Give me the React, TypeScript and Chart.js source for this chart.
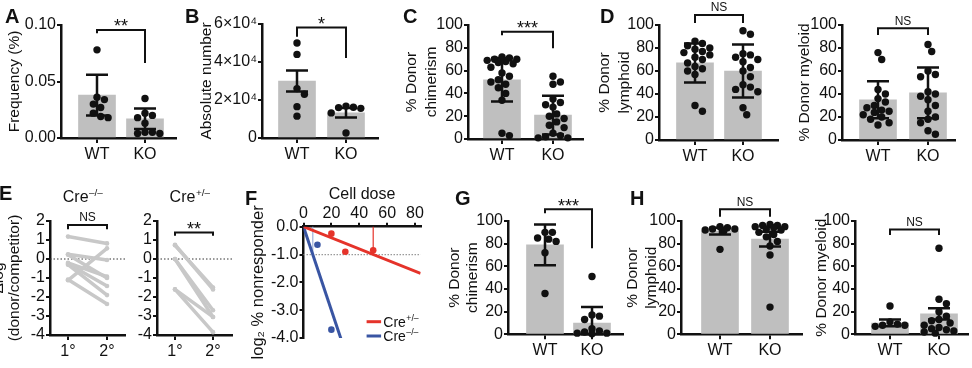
import React, { useEffect, useRef } from 'react';
import { Chart, registerables } from 'chart.js';

Chart.register(...registerables);

const FONT = '"Liberation Sans", Arial, Helvetica, sans-serif';
Chart.defaults.font.family = FONT;
Chart.defaults.color = '#111111';

const PAGE_W = 972;
const PAGE_H = 368;
// every canvas starts this far left of the page so an axis title can sit on the edge
const SHIFT = 40;
const X_AXIS_H = 30;

const INK = '#111111';
const BAR_GREY = '#bfbfbf';
const PAIR_GREY = '#c8c8c8';
const RED = '#e5332a';
const BLUE = '#3955a3';
const BLUE_LIGHT = '#9fb0da';
const TICK_FONT = { size: 16 };
const TITLE_SIZE = 15.5;
const DOT_R = 3.7;

// ---------------- values ----------------
const groups = ['WT', 'KO'];
const rounds = ['1°', '2°'];

// A: frequency (%)
const freqWT = [0.078, 0.036, 0.034, 0.03, 0.027, 0.022, 0.019, 0.018];
const freqKO = [0.035, 0.022, 0.02, 0.018, 0.013, 0.005, 0.004, 0.004, 0.005];
const freqMean = [0.038, 0.017];
const freqErr = [0.018, 0.009];
const freqTicks = [0, 0.05, 0.1];
const freqTickLabels = ['0.00', '0.05', '0.10'];

// B: absolute number
const absWT = [50000, 44000, 26000, 23000, 16500, 11500];
const absKO = [16800, 16200, 16000, 15600, 13200, 2600];
const absMean = [30000, 13300];
const absErr = [5500, 2500];
const absTicks = [0, 20000, 40000, 60000];
const absTickLabels = ['0', '2×10⁴', '4×10⁴', '6×10⁴'];

// shared percent axis
const pctTicks = [0, 20, 40, 60, 80, 100];
const pctTickLabels = ['0', '20', '40', '60', '80', '100'];

// C: donor chimerism
const chimWT = [72, 71, 70, 70, 69, 68, 67, 66, 63, 58, 55, 52, 50, 48, 45, 40, 34, 5, 3];
const chimKO = [55, 50, 48, 35, 32, 30, 28, 22, 20, 18, 15, 12, 10, 5, 3, 2, 1, 1];
const chimMean = [52, 21];
const chimErr = [19, 17];

// D: donor lymphoid / myeloid
const lymWT = [86, 84, 82, 80, 79, 77, 76, 74, 72, 70, 67, 64, 62, 60, 57, 30, 25];
const lymKO = [95, 92, 75, 74, 72, 70, 68, 63, 60, 55, 48, 46, 44, 42, 28, 22];
const lymMean = [67, 60];
const lymErr = [17, 23];
const myeWT = [76, 70, 44, 40, 36, 33, 30, 28, 26, 25, 24, 22, 20, 18, 15, 13];
const myeKO = [83, 77, 60, 57, 55, 42, 40, 38, 35, 30, 25, 20, 18, 15, 8, 5];
const myeMean = [35, 41];
const myeErr = [16, 22];

// E: paired Δlog(donor/competitor), primary vs secondary
const creNegFirst = [1.18, 0.25, -1.12, -0.2, -0.25, -0.3, -1.08, 0.22];
const creNegSecond = [0.82, -0.05, 0.56, -0.93, -1.42, -1.9, -2.37, -1.0];
const crePosFirst = [0.75, 0.72, 0.0, 0.0, -1.6, -1.6];
const crePosSecond = [-1.6, -1.5, -2.7, -3.05, -3.05, -3.85];
const logTicks = [-4, -3, -2, -1, 0, 1, 2];
const logTickLabels = ['-4', '-3', '-2', '-1', '0', '1', '2'];

// F: limiting dilution
const doseRedX = [20, 30, 50];
const doseRedY = [-0.25, -0.9, -0.85];
const doseBlueX = [10, 20];
const doseBlueY = [-0.65, -3.7];
const redSlope = -0.02;
const blueSlope = -0.15;
const doseTicks = [0, 20, 40, 60, 80];
const doseTickLabels = ['0', '20', '40', '60', '80'];
const nonrespTicks = [-4, -3, -2, -1, 0];
const nonrespTickLabels = ['-4.0', '-3.0', '-2.0', '-1.0', '0.0'];
const legendSups = ['+/–', '–/–'];

// G: secondary donor chimerism
const chim2WT = [90, 90, 85, 84, 82, 72, 36];
const chim2KO = [51, 17, 16, 13, 5, 3, 2, 1, 1, 0.5];
const chim2Mean = [79, 10];
const chim2Err = [18, 14];

// H: secondary lymphoid / myeloid
const lym2WT = [95, 94, 93, 93, 92, 91, 75];
const lym2KO = [97, 96, 96, 95, 95, 94, 93, 92, 90, 88, 86, 82, 78, 70, 24];
const lym2Mean = [91, 84];
const lym2Err = [3, 6.5];
const mye2WT = [25, 11, 9, 8, 8, 7];
const mye2KO = [76, 31, 27, 20, 16, 13, 12, 10, 8, 6, 5, 4, 3, 2, 1];
const mye2Mean = [10, 18];
const mye2Err = [3, 5];

// ---------------- layout ----------------
type Frame = { titleLeft: number; axisX: number; right: number; top: number; bottom: number; c1: number; c2: number };
type Sig = { label: string; top: number; legs: [number, number] };

const FRAMES: Record<string, Frame> = {
  A: { titleLeft: 5.7, axisX: 61, right: 176, top: 25, bottom: 138, c1: 97, c2: 145 },
  B: { titleLeft: 197.7, axisX: 262, right: 378, top: 24, bottom: 138, c1: 297, c2: 346 },
  C: { titleLeft: 402, axisX: 468, right: 583, top: 25, bottom: 139, c1: 502, c2: 553 },
  DL: { titleLeft: 595, axisX: 659, right: 778, top: 25, bottom: 140, c1: 695, c2: 743 },
  DM: { titleLeft: 795.7, axisX: 842, right: 955, top: 25, bottom: 140, c1: 878, c2: 928 },
  E1: { titleLeft: -9, axisX: 50, right: 125, top: 221, bottom: 335, c1: 68, c2: 107 },
  E2: { titleLeft: 130, axisX: 157, right: 232, top: 221, bottom: 335, c1: 175, c2: 213 },
  G: { titleLeft: 446, axisX: 508, right: 623, top: 221, bottom: 334.3, c1: 545, c2: 592 },
  HL: { titleLeft: 623.5, axisX: 681, right: 802, top: 221, bottom: 334.3, c1: 720, c2: 770 },
  HM: { titleLeft: 812.7, axisX: 855, right: 968, top: 221, bottom: 334.3, c1: 890, c2: 939 },
};
const FRAME_F = { titleLeft: 248, axisX: 303.5, top: 226.7, bottom: 338, doseMax: 84, topAxisH: 41.3 };

const LETTERS = [
  { t: 'A', x: 5, y: 5.5 },
  { t: 'B', x: 185, y: 5.5 },
  { t: 'C', x: 403, y: 5.5 },
  { t: 'D', x: 600, y: 5.5 },
  { t: 'E', x: -1, y: 182.5 },
  { t: 'F', x: 245, y: 188 },
  { t: 'G', x: 455, y: 187.5 },
  { t: 'H', x: 630, y: 188 },
];

// ---------------- helpers ----------------
function xRange(f: Frame) {
  const s = f.c2 - f.c1;
  return { min: 1 - (f.c1 - f.axisX) / s, max: 2 + (f.right - f.c2) / s };
}

// Prism-style scatter: points at similar heights are pushed sideways
function swarm(values: number[], group: number, f: Frame, yMin: number, yMax: number) {
  const ppy = (f.bottom - f.top) / (yMax - yMin);
  const ppx = f.c2 - f.c1;
  const order = values.map((_, i) => i).sort((a, b) => values[b] - values[a]);
  const placed: { dx: number; py: number }[] = [];
  const cands = [0, 1, -1, 2, -2, 3, -3, 4, -4].map((k) => k * DOT_R);
  const pts: { x: number; y: number }[] = [];
  for (const i of order) {
    const py = (values[i] - yMin) * ppy;
    let pick = 0;
    let best = -Infinity;
    for (const dx of cands) {
      let gap = Infinity;
      for (const p of placed) gap = Math.min(gap, Math.hypot(dx - p.dx, py - p.py));
      if (gap >= 2 * DOT_R * 0.95) {
        pick = dx;
        break;
      }
      if (gap > best) {
        best = gap;
        pick = dx;
      }
    }
    placed.push({ dx: pick, py });
    pts.push({ x: group + pick / ppx, y: values[i] });
  }
  return pts;
}

function drawSup(ctx: CanvasRenderingContext2D, base: string, sup: string, x: number, y: number, size: number, align: 'center' | 'left') {
  ctx.save();
  ctx.fillStyle = INK;
  ctx.textAlign = 'left';
  ctx.textBaseline = 'alphabetic';
  const bf = `${size}px ${FONT}`;
  const sf = `${(size * 0.62).toFixed(1)}px ${FONT}`;
  ctx.font = bf;
  const bw = ctx.measureText(base).width;
  ctx.font = sf;
  const sw = ctx.measureText(sup).width;
  const x0 = align === 'center' ? x - (bw + sw) / 2 : x;
  ctx.font = bf;
  ctx.fillText(base, x0, y);
  ctx.font = sf;
  ctx.fillText(sup, x0 + bw + 0.5, y - size * 0.4);
  ctx.restore();
}

function errorBars(mean: number[], err: number[]) {
  return {
    id: 'errorBars',
    afterDatasetsDraw(chart: any) {
      const { ctx, scales } = chart;
      const { x, y } = scales;
      ctx.save();
      ctx.strokeStyle = INK;
      ctx.lineWidth = 2.5;
      mean.forEach((m: number, i: number) => {
        const px = x.getPixelForValue(i + 1);
        const top = y.getPixelForValue(m + err[i]);
        const bot = y.getPixelForValue(Math.max(m - err[i], y.min));
        ctx.beginPath();
        ctx.moveTo(px, top);
        ctx.lineTo(px, bot);
        ctx.moveTo(px - 11, top);
        ctx.lineTo(px + 11, top);
        ctx.moveTo(px - 11, bot);
        ctx.lineTo(px + 11, bot);
        ctx.stroke();
      });
      ctx.restore();
    },
  };
}

function bracket(sig: Sig) {
  return {
    id: 'sigBracket',
    afterDraw(chart: any) {
      const { ctx, scales } = chart;
      const { x, y } = scales;
      const x1 = x.getPixelForValue(1);
      const x2 = x.getPixelForValue(2);
      const top = y.getPixelForValue(sig.top);
      ctx.save();
      ctx.strokeStyle = INK;
      ctx.lineWidth = 2;
      ctx.lineJoin = 'miter';
      ctx.beginPath();
      ctx.moveTo(x1, y.getPixelForValue(sig.legs[0]));
      ctx.lineTo(x1, top);
      ctx.lineTo(x2, top);
      ctx.lineTo(x2, y.getPixelForValue(sig.legs[1]));
      ctx.stroke();
      const stars = sig.label.includes('*');
      const size = stars ? 18 : 12;
      const mid = top - 8;
      ctx.fillStyle = INK;
      ctx.font = `${size}px ${FONT}`;
      ctx.textAlign = 'center';
      ctx.textBaseline = 'alphabetic';
      ctx.fillText(sig.label, (x1 + x2) / 2, mid + size * (stars ? 0.58 : 0.36));
      ctx.restore();
    },
  };
}

function refLine(value: number, color: string, dash: number[], width: number) {
  return {
    id: 'refLine',
    beforeDatasetsDraw(chart: any) {
      const { ctx, chartArea: a, scales } = chart;
      const py = scales.y.getPixelForValue(value);
      ctx.save();
      ctx.strokeStyle = color;
      ctx.lineWidth = width;
      ctx.setLineDash(dash);
      ctx.beginPath();
      ctx.moveTo(a.left, py);
      ctx.lineTo(a.right, py);
      ctx.stroke();
      ctx.restore();
    },
  };
}

function yScale(
  f: { axisX: number; titleLeft: number },
  ticks: number[],
  labels: string[],
  title?: { text: string | string[]; lh: number; size?: number },
) {
  return {
    type: 'linear',
    min: ticks[0],
    max: ticks[ticks.length - 1],
    afterBuildTicks: (s: any) => {
      s.ticks = ticks.map((v) => ({ value: v }));
    },
    afterFit: (s: any) => {
      s.width = f.axisX - f.titleLeft;
    },
    ticks: { callback: (_v: any, i: number) => labels[i], font: TICK_FONT, color: INK, padding: 1, autoSkip: false },
    grid: { drawOnChartArea: false, tickLength: 4, color: INK, lineWidth: 2 },
    border: { display: true, color: INK, width: 2.5 },
    title: title
      ? {
          display: true,
          text: title.text,
          color: INK,
          padding: 0,
          font: { size: title.size ?? TITLE_SIZE, lineHeight: `${title.lh}px` },
        }
      : { display: false },
  };
}

function xScale(min: number, max: number, ticks: number[], labels: string[]) {
  return {
    type: 'linear',
    min,
    max,
    offset: false,
    afterBuildTicks: (s: any) => {
      s.ticks = ticks.map((v) => ({ value: v }));
    },
    afterFit: (s: any) => {
      s.height = X_AXIS_H;
    },
    ticks: { callback: (_v: any, i: number) => labels[i], font: TICK_FONT, color: INK, padding: 2, autoSkip: false, maxRotation: 0 },
    grid: { drawOnChartArea: false, tickLength: 5, color: INK, lineWidth: 2, offset: false },
    border: { display: true, color: INK, width: 2.5 },
  };
}

function basePadding(f: Frame) {
  return {
    left: f.titleLeft + SHIFT,
    right: PAGE_W - f.right,
    top: f.top,
    bottom: PAGE_H - f.bottom - X_AXIS_H,
  };
}

const COMMON = {
  responsive: false,
  animation: false,
  devicePixelRatio: 1,
  events: [],
};

type BarSpec = {
  frame: Frame;
  yTicks: number[];
  yLabels: string[];
  title: string | string[];
  titleLH: number;
  wt: number[];
  ko: number[];
  mean: number[];
  err: number[];
  sig: Sig;
};

function barChart(p: BarSpec) {
  return () => {
    const f = p.frame;
    const yMin = p.yTicks[0];
    const yMax = p.yTicks[p.yTicks.length - 1];
    const { min, max } = xRange(f);
    const dots = [...swarm(p.wt, 1, f, yMin, yMax), ...swarm(p.ko, 2, f, yMin, yMax)];
    return {
      type: 'bar',
      data: {
        datasets: [
          { type: 'scatter', data: dots, pointRadius: DOT_R, pointBackgroundColor: INK, pointBorderWidth: 0, clip: false },
          { type: 'bar', data: p.mean.map((m, i) => ({ x: i + 1, y: m })), backgroundColor: BAR_GREY, barThickness: 37, borderWidth: 0 },
        ],
      },
      options: {
        ...COMMON,
        layout: { padding: basePadding(f) },
        plugins: { legend: { display: false }, tooltip: { enabled: false } },
        scales: {
          x: xScale(min, max, [1, 2], groups),
          y: yScale(f, p.yTicks, p.yLabels, { text: p.title, lh: p.titleLH }),
        },
      },
      plugins: [errorBars(p.mean, p.err), bracket(p.sig)],
    };
  };
}

function pairedChart(first: number[], second: number[], f: Frame, sup: string, sig: Sig, title?: { text: string[]; lh: number }) {
  return () => {
    const { min, max } = xRange(f);
    return {
      type: 'line',
      data: {
        datasets: first.map((a, i) => ({
          data: [
            { x: 1, y: a },
            { x: 2, y: second[i] },
          ],
          borderColor: PAIR_GREY,
          borderWidth: 3.5,
          borderCapStyle: 'round',
          pointRadius: 2.3,
          pointBackgroundColor: PAIR_GREY,
          pointBorderWidth: 0,
          clip: false,
        })),
      },
      options: {
        ...COMMON,
        layout: { padding: basePadding(f) },
        plugins: { legend: { display: false }, tooltip: { enabled: false } },
        scales: {
          x: xScale(min, max, [1, 2], rounds),
          y: yScale(f, logTicks, logTickLabels, title),
        },
      },
      plugins: [
        refLine(0, '#333333', [1.5, 2], 1),
        bracket(sig),
        {
          id: 'creTitle',
          afterDraw(chart: any) {
            const a = chart.chartArea;
            drawSup(chart.ctx, 'Cre', sup, (a.left + a.right) / 2 - 5, a.top - 19, 16, 'center');
          },
        },
      ],
    };
  };
}

function doseChart() {
  const f = FRAME_F;
  const fit = (slope: number) => [
    { x: 0, y: 0 },
    { x: f.doseMax, y: slope * f.doseMax },
  ];
  return {
    type: 'scatter',
    data: {
      datasets: [
        { data: doseRedX.map((x, i) => ({ x, y: doseRedY[i] })), pointRadius: 3.3, pointBackgroundColor: RED, pointBorderWidth: 0, clip: false },
        { data: doseBlueX.map((x, i) => ({ x, y: doseBlueY[i] })), pointRadius: 3.3, pointBackgroundColor: BLUE, pointBorderWidth: 0, clip: false },
        { type: 'line', data: fit(redSlope), borderColor: RED, borderWidth: 3, pointRadius: 0 },
        { type: 'line', data: fit(blueSlope), borderColor: BLUE, borderWidth: 3, pointRadius: 0 },
      ],
    },
    options: {
      ...COMMON,
      layout: {
        padding: {
          left: f.titleLeft + SHIFT,
          right: PAGE_W - (f.axisX + f.doseMax * 1.394),
          top: f.top - f.topAxisH,
          bottom: PAGE_H - f.bottom,
        },
      },
      plugins: { legend: { display: false }, tooltip: { enabled: false } },
      scales: {
        x: {
          type: 'linear',
          position: 'top',
          min: 0,
          max: f.doseMax,
          afterBuildTicks: (s: any) => {
            s.ticks = doseTicks.map((v) => ({ value: v }));
          },
          afterFit: (s: any) => {
            s.height = f.topAxisH;
          },
          ticks: { callback: (_v: any, i: number) => doseTickLabels[i], font: TICK_FONT, color: INK, padding: 0, autoSkip: false, maxRotation: 0 },
          grid: { drawOnChartArea: false, tickLength: 4, color: INK, lineWidth: 2 },
          border: { display: true, color: INK, width: 2.5 },
          title: { display: true, text: 'Cell dose', color: INK, padding: 0, font: { size: 16 } },
        },
        y: yScale(f, nonrespTicks, nonrespTickLabels, { text: 'log₂ % nonresponder', lh: 20, size: 16.5 }),
      },
    },
    plugins: [
      refLine(-1, '#9a9a9a', [1.5, 1.5], 1.2),
      {
        id: 'doseMarks',
        beforeDatasetsDraw(chart: any) {
          const { ctx, scales } = chart;
          const { x, y } = scales;
          ctx.save();
          ctx.lineWidth = 1.2;
          [
            [redSlope, RED],
            [blueSlope, BLUE_LIGHT],
          ].forEach(([slope, color]: any) => {
            const px = x.getPixelForValue(-1 / slope);
            ctx.strokeStyle = color;
            ctx.beginPath();
            ctx.moveTo(px, y.getPixelForValue(0));
            ctx.lineTo(px, y.getPixelForValue(-1));
            ctx.stroke();
          });
          ctx.restore();
        },
      },
      {
        id: 'doseLegend',
        afterDraw(chart: any) {
          const { ctx, chartArea: a } = chart;
          const rows = [
            { color: RED, sup: legendSups[0], dy: -11.3 },
            { color: BLUE, sup: legendSups[1], dy: 3 },
          ];
          ctx.save();
          rows.forEach((r) => {
            const base = a.bottom + r.dy;
            ctx.strokeStyle = r.color;
            ctx.lineWidth = 3;
            ctx.beginPath();
            ctx.moveTo(a.right - 54, base - 5);
            ctx.lineTo(a.right - 39.5, base - 5);
            ctx.stroke();
            drawSup(ctx, 'Cre', r.sup, a.right - 37.3, base, 14, 'left');
          });
          ctx.restore();
        },
      },
    ],
  };
}

const CHARTS: (() => any)[] = [
  barChart({
    frame: FRAMES.A, yTicks: freqTicks, yLabels: freqTickLabels, title: 'Frequency (%)', titleLH: TITLE_SIZE * 1.2,
    wt: freqWT, ko: freqKO, mean: freqMean, err: freqErr, sig: { label: '**', top: 0.0956, legs: [0.0926, 0.0664] },
  }),
  barChart({
    frame: FRAMES.B, yTicks: absTicks, yLabels: absTickLabels, title: 'Absolute number', titleLH: TITLE_SIZE * 1.2,
    wt: absWT, ko: absKO, mean: absMean, err: absErr, sig: { label: '*', top: 58200, legs: [53300, 42100] },
  }),
  barChart({
    frame: FRAMES.C, yTicks: pctTicks, yLabels: pctTickLabels, title: ['% Donor', 'chimerism'], titleLH: 20,
    wt: chimWT, ko: chimKO, mean: chimMean, err: chimErr, sig: { label: '***', top: 94, legs: [91, 79.5] },
  }),
  barChart({
    frame: FRAMES.DL, yTicks: pctTicks, yLabels: pctTickLabels, title: ['% Donor', 'lymphoid'], titleLH: 20,
    wt: lymWT, ko: lymKO, mean: lymMean, err: lymErr, sig: { label: 'NS', top: 108.7, legs: [101.7, 101.7] },
  }),
  barChart({
    frame: FRAMES.DM, yTicks: pctTicks, yLabels: pctTickLabels, title: '% Donor myeloid', titleLH: TITLE_SIZE * 1.2,
    wt: myeWT, ko: myeKO, mean: myeMean, err: myeErr, sig: { label: 'NS', top: 97.1, legs: [91.3, 91.3] },
  }),
  pairedChart(creNegFirst, creNegSecond, FRAMES.E1, '–/–', { label: 'NS', top: 1.79, legs: [1.56, 1.56] }, { text: ['Δlog', '(donor/competitor)'], lh: 16 }),
  pairedChart(crePosFirst, crePosSecond, FRAMES.E2, '+/–', { label: '**', top: 1.4, legs: [1.23, 1.23] }),
  doseChart,
  barChart({
    frame: FRAMES.G, yTicks: pctTicks, yLabels: pctTickLabels, title: ['% Donor', 'chimerism'], titleLH: 18,
    wt: chim2WT, ko: chim2KO, mean: chim2Mean, err: chim2Err, sig: { label: '***', top: 110.3, legs: [106.8, 75.9] },
  }),
  barChart({
    frame: FRAMES.HL, yTicks: pctTicks, yLabels: pctTickLabels, title: ['% Donor', 'lymphoid'], titleLH: 19,
    wt: lym2WT, ko: lym2KO, mean: lym2Mean, err: lym2Err, sig: { label: 'NS', top: 110.3, legs: [103.8, 103.8] },
  }),
  barChart({
    frame: FRAMES.HM, yTicks: pctTicks, yLabels: pctTickLabels, title: '% Donor myeloid', titleLH: TITLE_SIZE * 1.2,
    wt: mye2WT, ko: mye2KO, mean: mye2Mean, err: mye2Err, sig: { label: 'NS', top: 92.6, legs: [87.6, 87.6] },
  }),
];

function ChartCanvas({ make }: { make: () => any }) {
  const ref = useRef<HTMLCanvasElement>(null);
  useEffect(() => {
    const chart = new Chart(ref.current as HTMLCanvasElement, make());
    return () => chart.destroy();
  }, [make]);
  return (
    <canvas
      ref={ref}
      width={PAGE_W + SHIFT}
      height={PAGE_H}
      style={{ position: 'absolute', left: -SHIFT, top: 0, width: PAGE_W + SHIFT, height: PAGE_H, pointerEvents: 'none' }}
    />
  );
}

export default function App() {
  return (
    <div
      style={{
        position: 'fixed',
        left: 0,
        top: 0,
        width: PAGE_W,
        height: PAGE_H,
        overflow: 'hidden',
        background: '#ffffff',
        fontFamily: FONT,
      }}
    >
      {CHARTS.map((make, i) => (
        <ChartCanvas key={i} make={make} />
      ))}
      {LETTERS.map((l) => (
        <div key={l.t} style={{ position: 'absolute', left: l.x, top: l.y, font: `bold 20px/20px ${FONT}`, color: INK }}>
          {l.t}
        </div>
      ))}
    </div>
  );
}
